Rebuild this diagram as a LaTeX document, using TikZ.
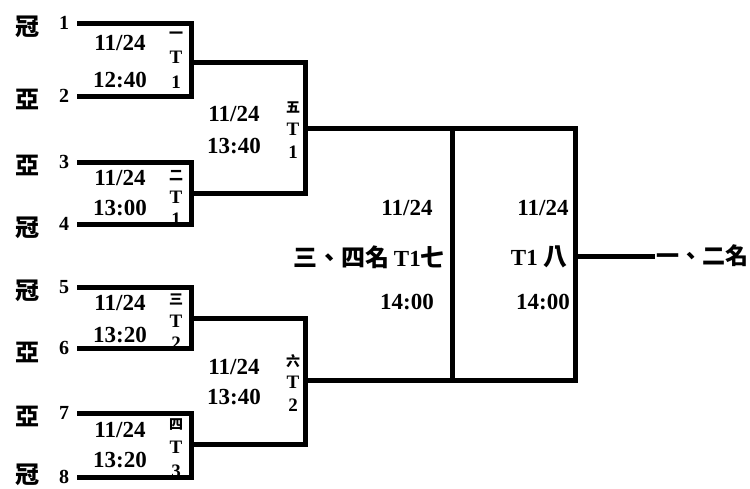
\documentclass[tikz,border=0pt]{standalone}
\usepackage{fontspec}
\setmainfont{Liberation Serif}
\newfontfamily\cjk{Noto Sans CJK TC}
\usetikzlibrary{positioning}

\newcommand\tagchar[1]{{\fontsize{14}{14}\selectfont\cjk #1}}

\tikzset{
  bracket/.style={line width=5pt},
  date/.style={font=\fontsize{23}{23}\selectfont\bfseries, inner sep=2pt},
  seed/.style={font=\fontsize{20}{20}\selectfont\bfseries, inner sep=1pt},
  rank/.style={font=\fontsize{24}{24}\selectfont\cjk\bfseries, inner sep=1pt},
  tag/.style={font=\fontsize{19}{#1}\selectfont\bfseries, align=center, inner sep=0pt},
  tag/.default=23
}

\begin{document}
\begin{tikzpicture}[x=1pt, y=-1pt]
    \useasboundingbox (0,0) rectangle (750,488);

    % seeds on the left
    \foreach \n/\y/\yr/\r in {1/23/27/冠, 2/96/99/亞, 3/162/165/亞, 4/224/228/冠,
      5/287/291/冠, 6/348/352/亞, 7/413/416/亞, 8/477/475/冠} {
      \coordinate (s\n) at (77,\y);
      \node[seed] (n\n) at (64,\y) {\n};
      \node[rank] (r\n) at (28,\yr) {\r};
    }

    % dates and times of the matches
    \foreach \m/\x/\yd/\yt/\t in {1/120/43/80/12:40, 2/120/178/208/13:00,
      3/120/303/335/13:20, 4/120/430/460/13:20, 5/234/114/146/13:40,
      6/234/367/397/13:40, 7/407/208/302/14:00, 8/543/208/302/14:00} {
      \node[date] (day\m) at (\x,\yd) {11/24};
      \node[date] (time\m) at (\x,\yt) {\t};
    }

    % match numbers and tables
    \node[tag=25] (g1) at (176,60) {\tagchar{一}\\T\\1};
    \node[tag=22.5] (g2) at (176,198) {\tagchar{二}\\T\\1};
    \node[tag=22.5] (g3) at (176,322) {\tagchar{三}\\T\\2};
    \node[tag=24] (g4) at (176,448) {\tagchar{四}\\T\\3};
    \node[tag] (g5) at (293,130) {\tagchar{五}\\T\\1};
    \node[tag=22.5] (g6) at (293,383) {\tagchar{六}\\T\\2};

    % finals
    \node[date, anchor=east] (third) at (447,257) {{\cjk\fontsize{24}{24}\selectfont 三、四名}\hspace{4pt}T1{\cjk\fontsize{24}{24}\selectfont 七}};
    \node[date, anchor=east] (final) at (570,257) {T1\hspace{6pt}{\cjk\fontsize{24}{24}\selectfont 八}};
    \node[rank, font=\fontsize{23}{23}\selectfont\cjk\bfseries, anchor=west] (champ) at (655,256) {一、二名};

    % joints of the bracket
    \coordinate (j1) at (191,62);
    \coordinate (j2) at (191,193);
    \coordinate (j3) at (191,318);
    \coordinate (j4) at (191,444);
    \coordinate (k1) at (305,128);
    \coordinate (k2) at (305,380);
    \coordinate (c34) at (452,254);
    \coordinate (c12) at (575,256);

    % first round
    \draw[bracket] (s1) -| (j1) |- (s2);
    \draw[bracket] (s3) -| (j2) |- (s4);
    \draw[bracket] (s5) -| (j3) |- (s6);
    \draw[bracket] (s7) -| (j4) |- (s8);

    % second round
    \draw[bracket] (j1) -| (k1) |- (j2);
    \draw[bracket] (j3) -| (k2) |- (j4);

    % final and third place
    \draw[bracket] (k1) -| (c34) |- (k2);
    \draw[bracket] (k1) -| (c12) |- (k2);
    \draw[bracket] (c12) -- (champ.west);
\end{tikzpicture}
\end{document}
